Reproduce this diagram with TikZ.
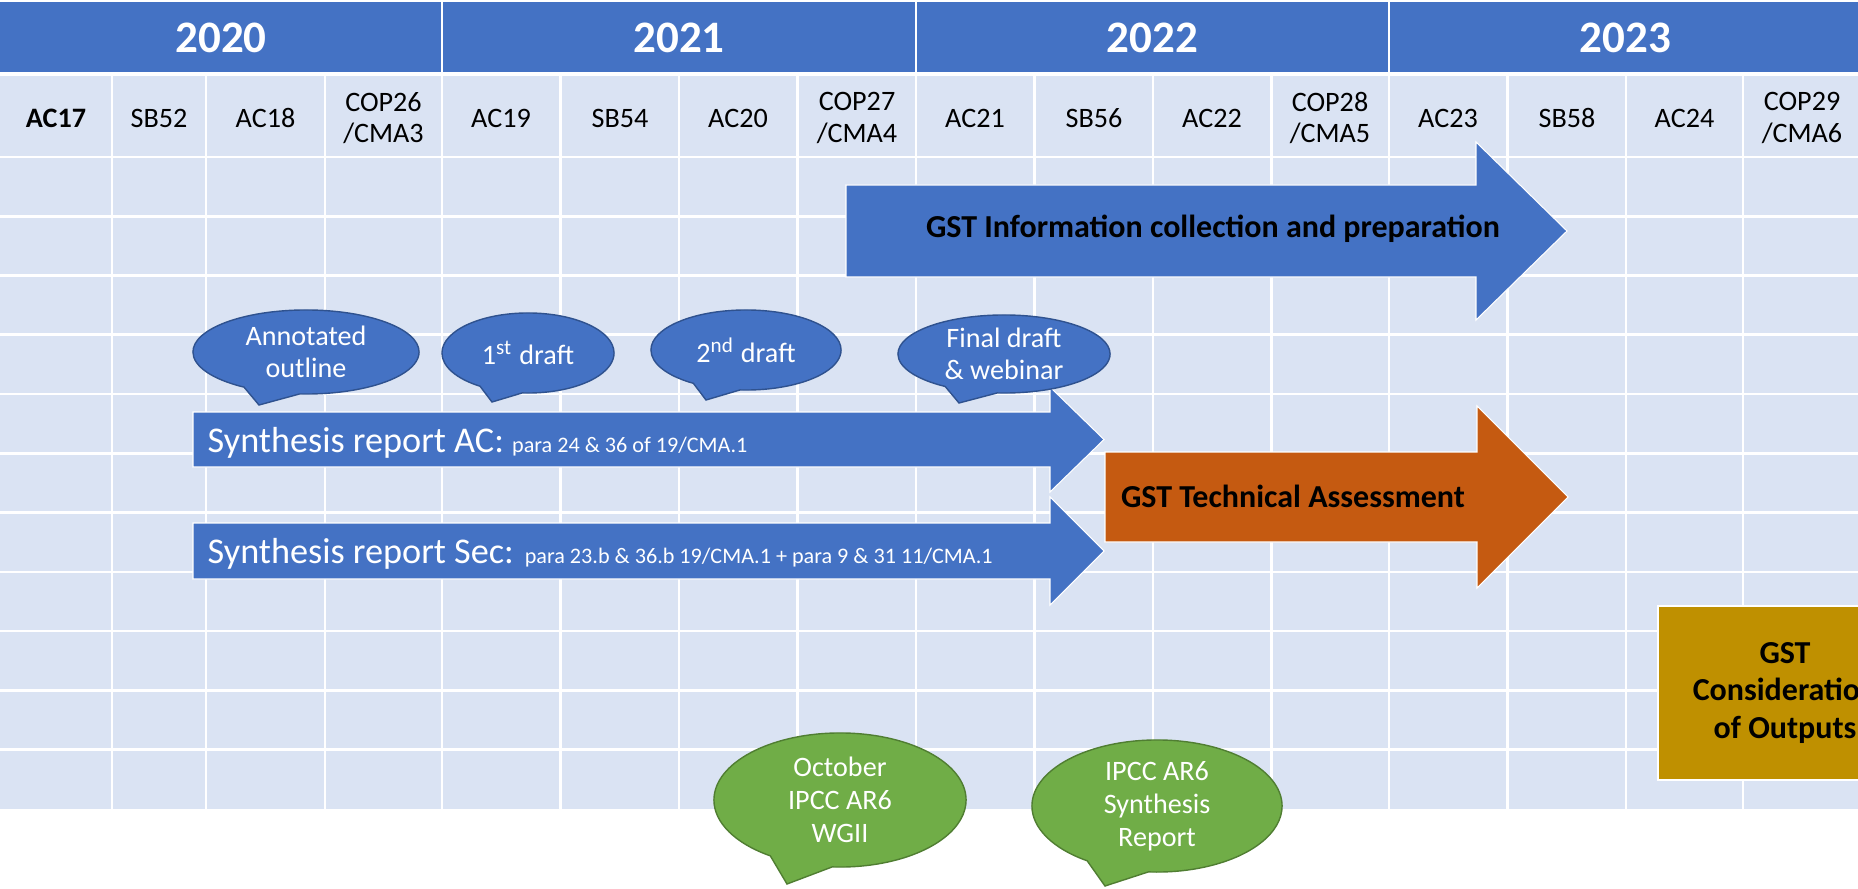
\documentclass[tikz,border=0pt]{standalone}
\usepackage{fontspec}
\setmainfont{Carlito}
\usetikzlibrary{shapes.callouts,positioning}

\definecolor{hdrblue}{HTML}{4472C4}
\definecolor{cellblue}{HTML}{DAE3F3}
\definecolor{bubbleedge}{HTML}{2F528F}
\definecolor{gstorange}{HTML}{C55A11}
\definecolor{gstgold}{HTML}{BF9000}
\definecolor{ipccgreen}{HTML}{70AD47}
\definecolor{ipccedge}{HTML}{507E32}

\begin{document}
\begin{tikzpicture}[x=0.01cm, y=-0.01cm,
    year/.style={text=white, font=\bfseries\fontsize{12.8}{14}\selectfont, anchor=base},
    meeting/.style={align=center, font=\fontsize{8}{9}\selectfont},
    bar/.style={fill=hdrblue, draw=white, line width=0.3pt},
    bartext/.style={anchor=base, font=\bfseries\fontsize{9.1}{11}\selectfont},
    syntext/.style={anchor=base west, inner xsep=0pt, text=white},
    bubble/.style={ellipse callout, callout pointer arc=30, fill=hdrblue, draw=bubbleedge,
        line width=0.4pt, inner sep=0pt, text=white, align=center, font=\fontsize{8}{9.1}\selectfont},
    ipcc/.style={bubble, fill=ipccgreen, draw=ipccedge, font=\fontsize{8}{9.4}\selectfont},
    gridline/.style={white, line width=0.75pt}]
            \useasboundingbox (0,0) rectangle (1858,888);
            \clip (0,0) rectangle (1858,888);

            % table
            \fill[hdrblue] (0,2) rectangle (1858,72);
            \fill[cellblue] (0,76) rectangle (1858,809);
            \foreach \x in {442,916,1389}
                \draw[gridline] (\x,0) -- (\x,72);
            \foreach \x in {112,206,325,442,560.5,679,797.5,916,1034.5,1153,1271.5,1389,1507.5,1626,1743}
                \draw[gridline] (\x,76) -- (\x,809);
            \foreach \i in {0,...,10}
                \draw[gridline] (0,{157+59.27*\i}) -- (1858,{157+59.27*\i});

            \node[year] (y2020) at (221,53) {2020};
            \node[year] (y2021) at (679,53) {2021};
            \node[year] (y2022) at (1152.5,53) {2022};
            \node[year] (y2023) at (1625.5,53) {2023};

            \node[meeting, font=\bfseries\fontsize{8}{9}\selectfont] (ac17) at (56,118) {AC17};
            \node[meeting] (sb52) at (159,118) {SB52};
            \node[meeting] (ac18) at (265.5,118) {AC18};
            \node[meeting] (cop26) at (383.5,118) {COP26\\/CMA3};
            \node[meeting] (ac19) at (501,118) {AC19};
            \node[meeting] (sb54) at (620,118) {SB54};
            \node[meeting] (ac20) at (738,118) {AC20};
            \node[meeting] (cop27) at (857,118) {COP27\\/CMA4};
            \node[meeting] (ac21) at (975,118) {AC21};
            \node[meeting] (sb56) at (1094,118) {SB56};
            \node[meeting] (ac22) at (1212,118) {AC22};
            \node[meeting] (cop28) at (1330,118) {COP28\\/CMA5};
            \node[meeting] (ac23) at (1448,118) {AC23};
            \node[meeting] (sb58) at (1567,118) {SB58};
            \node[meeting] (ac24) at (1684.5,118) {AC24};
            \node[meeting] (cop29) at (1802,118) {COP29\\/CMA6};

            % bars
            \fill[bar] (846,185) -- (1476,185) -- (1476,142) -- (1567,231) -- (1476,320) -- (1476,277) -- (846,277) -- cycle;
            \node[bartext] (gstinfo) at (1213,238) {GST Information collection and preparation};

            \fill[bar] (193,412) -- (1050,412) -- (1050,387) -- (1104,439.5) -- (1050,492) -- (1050,467) -- (193,467) -- cycle;
            \node[syntext] (synac) at (207,452) {\fontsize{10.3}{12}\selectfont Synthesis report AC: \fontsize{6.3}{7}\selectfont para 24 \& 36 of 19/CMA.1};

            \fill[bar] (193,523) -- (1050,523) -- (1050,497) -- (1104,551) -- (1050,605) -- (1050,579) -- (193,579) -- cycle;
            \node[syntext] (synsec) at (207,563.5) {\fontsize{10.3}{12}\selectfont Synthesis report Sec: \fontsize{6.3}{7}\selectfont para 23.b \& 36.b 19/CMA.1 + para 9 \& 31 11/CMA.1};

            \fill[bar, fill=gstorange] (1105,452) -- (1477,452) -- (1477,406) -- (1568,497) -- (1477,588) -- (1477,542) -- (1105,542) -- cycle;
            \node[bartext] (gsttech) at (1293,507) {GST Technical Assessment};

            \node[fill=gstgold, draw=white, line width=0.4pt, minimum width=2.54cm, minimum height=1.74cm,
                align=center, font=\bfseries\fontsize{9.1}{10.8}\selectfont] (gstcons) at (1785,693) {GST\\Consideration\\of Outputs};

            % speech bubbles
            \node[bubble, minimum width=2.26cm, minimum height=0.84cm, callout absolute pointer={(259,405)}] (outline) at (306,352) {Annotated\\outline};
            \node[bubble, minimum width=1.72cm, minimum height=0.80cm, callout absolute pointer={(492,402)}] (draft1) at (528,353) {1\textsuperscript{st} draft};
            \node[bubble, minimum width=1.90cm, minimum height=0.80cm, callout absolute pointer={(706,400)}] (draft2) at (746,350) {2\textsuperscript{nd} draft};
            \node[bubble, minimum width=2.12cm, minimum height=0.78cm, callout absolute pointer={(959,403)}] (final) at (1004,354) {Final draft\\\& webinar};

            \node[ipcc, minimum width=2.52cm, minimum height=1.34cm, callout absolute pointer={(787,884)}] (wgii) at (840,800) {October\\IPCC AR6\\WGII};
            \node[ipcc, minimum width=2.50cm, minimum height=1.32cm, callout absolute pointer={(1105,886)}] (synrep) at (1157,806) {IPCC AR6\\Synthesis\\Report};
        \end{tikzpicture}
\end{document}
